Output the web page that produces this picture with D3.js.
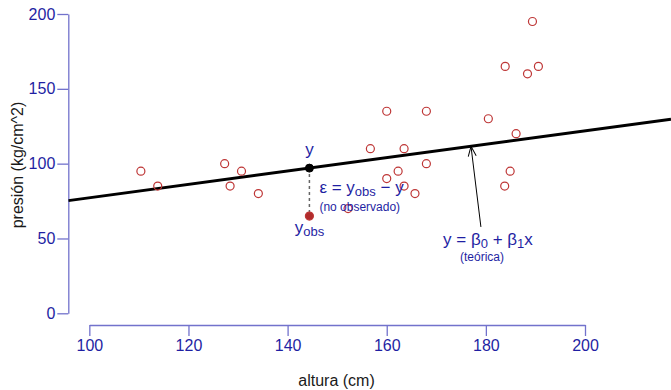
<!DOCTYPE html>
<html>
<head>
<meta charset="utf-8">
<script src="https://cdn.jsdelivr.net/npm/d3@7"></script>
<style>
  body { margin: 0; background: #fff; }
  svg { display: block; font-family: "Liberation Sans", Arial, sans-serif; }
</style>
</head>
<body>
<svg id="chart" width="671" height="390"></svg>
<script>
// ---- data ----
const altura  = [110.4, 113.8, 127.3, 130.7, 128.4, 134.1, 152.2, 156.7, 160.0, 160.0, 162.3, 163.5, 163.5, 165.7, 168.0, 168.0, 180.5, 183.9, 190.6, 188.4, 189.4, 186.1, 184.9, 183.8];
const presion = [95, 85, 100, 95, 85, 80, 70, 110, 135, 90, 95, 110, 85, 80, 135, 100, 130, 165, 165, 160, 195, 120, 95, 85];
const obsX = [144.4];
const obsY = [65];
const beta0 = 32.5;
const beta1 = 0.4468;
const xTicks = [100, 120, 140, 160, 180, 200];
const yTicks = [0, 50, 100, 150, 200];
const arrowFrom = [179.0, 57.7];
const arrowTo = [177.0, 32.5 + 0.4468 * 177.0];

// ---- layout ----
const svg = d3.select("#chart");
const W = 671, H = 390;
const x = d3.scaleLinear().domain([100, 200]).range([89.33, 585]);
const y = d3.scaleLinear().domain([0, 200]).range([313.3, 14]);
const plotLeft = 68.3, plotRight = W;

const axisCol = "#7272cc", tickTextCol = "#1f1fa3", annCol = "#1f1fa3";
const ptCol = "#be3636";

svg.append("defs").append("clipPath").attr("id", "clip")
  .append("rect").attr("x", plotLeft).attr("y", 0).attr("width", plotRight - plotLeft).attr("height", 330);

// y axis
const gy = svg.append("g").attr("transform", `translate(${plotLeft},0)`)
  .call(d3.axisLeft(y).tickValues(yTicks).tickSize(11).tickSizeOuter(0).tickPadding(2));
gy.select(".domain").attr("stroke", axisCol).attr("stroke-width", 1.3);
gy.selectAll(".tick line").attr("stroke", axisCol).attr("stroke-width", 1.3);
gy.selectAll(".tick text").attr("fill", tickTextCol).attr("font-size", 16).attr("font-family", "Liberation Sans, Arial, sans-serif");

// x axis
const gx = svg.append("g").attr("transform", `translate(0,325)`)
  .call(d3.axisBottom(x).tickValues(xTicks).tickSize(11).tickSizeOuter(0).tickPadding(4));
gx.select(".domain").attr("stroke", axisCol).attr("stroke-width", 1.3);
gx.selectAll(".tick line").attr("stroke", axisCol).attr("stroke-width", 1.3);
gx.selectAll(".tick text").attr("fill", tickTextCol).attr("font-size", 16).attr("font-family", "Liberation Sans, Arial, sans-serif");

// axis titles
svg.append("text").attr("x", 336.5).attr("y", 386).attr("text-anchor", "middle")
  .attr("font-size", 16).attr("fill", "#1a1a1a").text("altura (cm)");
svg.append("text").attr("transform", "translate(23,165) rotate(-90)").attr("text-anchor", "middle")
  .attr("font-size", 16).attr("fill", "#1a1a1a").text("presión (kg/cm^2)");

// regression line
const xMin = x.invert(plotLeft), xMax = x.invert(plotRight);
svg.append("line").attr("clip-path", "url(#clip)")
  .attr("x1", x(xMin)).attr("y1", y(beta0 + beta1 * xMin))
  .attr("x2", x(xMax)).attr("y2", y(beta0 + beta1 * xMax))
  .attr("stroke", "#000").attr("stroke-width", 3);

// points
svg.append("g").selectAll("circle").data(altura.map((a, i) => [a, presion[i]])).join("circle")
  .attr("cx", d => x(d[0])).attr("cy", d => y(d[1])).attr("r", 4)
  .attr("fill", "none").attr("stroke", ptCol).attr("stroke-width", 1.2);

// residual dashed line
const fitY = beta0 + beta1 * obsX[0];
svg.append("line").attr("x1", x(obsX[0])).attr("x2", x(obsX[0]))
  .attr("y1", y(fitY)).attr("y2", y(obsY[0]))
  .attr("stroke", "#666").attr("stroke-width", 1.5).attr("stroke-dasharray", "3,3");

// observed point (filled)
svg.append("circle").attr("cx", x(obsX[0])).attr("cy", y(obsY[0])).attr("r", 4)
  .attr("fill", "#b02c2c").attr("stroke", ptCol).attr("stroke-width", 1.2);
// fitted point
svg.append("circle").attr("cx", x(obsX[0])).attr("cy", y(fitY)).attr("r", 4)
  .attr("fill", "#000").attr("stroke", "#000").attr("stroke-width", 1);

// arrow
const defs = svg.select("defs");
defs.append("marker").attr("id", "arr").attr("viewBox", "0 0 10 10").attr("refX", 10).attr("refY", 5)
  .attr("markerWidth", 10).attr("markerHeight", 10).attr("markerUnits", "userSpaceOnUse").attr("orient", "auto")
  .append("path").attr("d", "M0,1 L10,5 L0,9").attr("fill", "none").attr("stroke", "#000").attr("stroke-width", 1);
svg.append("line").attr("x1", x(arrowFrom[0])).attr("y1", y(arrowFrom[1]))
  .attr("x2", x(arrowTo[0])).attr("y2", y(arrowTo[1]))
  .attr("stroke", "#000").attr("stroke-width", 1).attr("marker-end", "url(#arr)");

// annotations
const px = x(obsX[0]);
svg.append("text").attr("x", px).attr("y", y(fitY) - 13).attr("text-anchor", "middle")
  .attr("font-size", 17).attr("fill", annCol).text("y");

const eps = svg.append("text").attr("x", px + 10).attr("y", 193).attr("font-size", 17).attr("fill", annCol);
eps.append("tspan").text("ε = y");
eps.append("tspan").attr("font-size", 13).attr("dy", 3).text("obs");
eps.append("tspan").attr("dy", -3).text(" − y");

svg.append("text").attr("x", px + 10).attr("y", 211).attr("font-size", 12).attr("fill", annCol).text("(no observado)");

const yo = svg.append("text").attr("x", px).attr("y", 233).attr("text-anchor", "middle").attr("font-size", 17).attr("fill", annCol);
yo.append("tspan").text("y");
yo.append("tspan").attr("font-size", 13).attr("dy", 3).text("obs");

const tx = x(arrowFrom[0]);
const teo = svg.append("text").attr("x", tx + 7).attr("y", 245).attr("text-anchor", "middle").attr("font-size", 17).attr("fill", annCol);
teo.append("tspan").text("y = β");
teo.append("tspan").attr("font-size", 13).attr("dy", 3).text("0");
teo.append("tspan").attr("dy", -3).text(" + β");
teo.append("tspan").attr("font-size", 13).attr("dy", 3).text("1");
teo.append("tspan").attr("dy", -3).text("x");

svg.append("text").attr("x", 482).attr("y", 261).attr("text-anchor", "middle").attr("font-size", 12)
  .attr("fill", annCol).text("(teórica)");
</script>
</body>
</html>
